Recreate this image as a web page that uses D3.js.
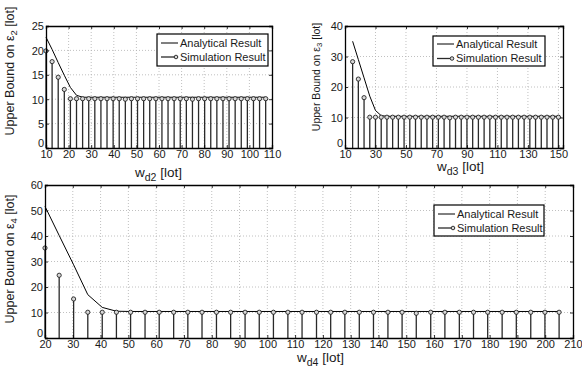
<!DOCTYPE html>
<html>
<head>
<meta charset="utf-8">
<script src="https://cdn.jsdelivr.net/npm/d3@7"></script>
<style>
  body { margin: 0; background: #fff; }
  svg text { font-family: "Liberation Sans", Arial, sans-serif; fill: #1a1a1a; }
</style>
</head>
<body>
<svg id="chart" width="582" height="369"></svg>
<script>
// ---- panel 1 (w_d2) ----
const wd2 = [10, 12.7, 15.4, 18.1, 20.8, 23.5, 26.2, 28.9, 31.6, 34.3, 37, 39.7, 42.4, 45.1, 47.8, 50.5, 53.2, 55.9, 58.6,
  61.3, 64, 66.7, 69.4, 72.1, 74.8, 77.5, 80.2, 82.9, 85.6, 88.3, 91, 93.7, 96.4, 99.1, 101.8, 104.5, 107.2];
const sim2 = [19.9, 17.7, 14.5, 12, 10.1, 10.1, 10.1, 10.1, 10.1, 10.1, 10.1, 10.1, 10.1, 10, 10.1, 10.1, 10.1, 10.1, 10.1,
  10.1, 10.1, 10.1, 10.1, 10.1, 10, 10.1, 10.1, 10.1, 10.1, 10.1, 10.1, 10.1, 10.1, 10.1, 10.1, 10.1, 10.1];
const ana2 = [22.7, 20.2, 17.5, 14.9, 12.4, 10.8, 10.4, 10.4, 10.4, 10.4, 10.4, 10.4, 10.4, 10.4, 10.4, 10.4, 10.4, 10.4, 10.4,
  10.4, 10.4, 10.4, 10.4, 10.4, 10.4, 10.4, 10.4, 10.4, 10.4, 10.4, 10.4, 10.4, 10.4, 10.4, 10.4, 10.4, 10.4];
const xTicks2 = [10, 20, 30, 40, 50, 60, 70, 80, 90, 100, 110];
const yTicks2 = [0, 5, 10, 15, 20, 25];

// ---- panel 2 (w_d3) ----
const wd3 = [15, 18.75, 22.5, 26.25, 30, 33.75, 37.5, 41.25, 45, 48.75, 52.5, 56.25, 60, 63.75, 67.5, 71.25, 75, 78.75, 82.5,
  86.25, 90, 93.75, 97.5, 101.25, 105, 108.75, 112.5, 116.25, 120, 123.75, 127.5, 131.25, 135, 138.75, 142.5, 146.25, 150];
const sim3 = [28.3, 22.6, 16.5, 10.1, 10.1, 10.1, 10.1, 10.1, 10.1, 10.1, 10.1, 10.1, 10.1, 10.1, 10.1, 10.1, 10.1, 9.9, 10.1,
  10.1, 10.1, 10.1, 10.1, 10.1, 10.1, 10.1, 10.1, 10.1, 10.1, 10.1, 10.1, 10.1, 10.1, 10.1, 10.1, 10.1, 10.1];
const ana3 = [35, 29, 23, 17, 12.3, 10.6, 10.4, 10.4, 10.4, 10.4, 10.4, 10.4, 10.4, 10.4, 10.4, 10.4, 10.4, 10.4, 10.4,
  10.4, 10.4, 10.4, 10.4, 10.4, 10.4, 10.4, 10.4, 10.4, 10.4, 10.4, 10.4, 10.4, 10.4, 10.4, 10.4, 10.4, 10.4];
const xTicks3 = [10, 30, 50, 70, 90, 110, 130, 150];
const yTicks3 = [0, 10, 20, 30, 40];

// ---- panel 3 (w_d4) ----
const wd4 = [20, 25.1, 30.3, 35.4, 40.6, 45.7, 50.8, 56, 61.1, 66.3, 71.4, 76.5, 81.7, 86.8, 92, 97.1, 102.2, 107.4, 112.5,
  117.7, 122.8, 127.9, 133.1, 138.2, 143.4, 148.5, 153.6, 158.8, 163.9, 169.1, 174.2, 179.3, 184.5, 189.6, 194.8, 199.9, 205];
const sim4 = [35.3, 24.6, 15.3, 10.1, 10.1, 10.1, 10.1, 10.1, 10.1, 10.1, 10.1, 10.1, 10.1, 10.1, 10.1, 10.1, 10.1, 10.1, 10.1,
  10.1, 10.1, 10.1, 10.1, 10.1, 10.1, 10.1, 9.7, 10.1, 10.1, 10.1, 10.1, 10.1, 10.1, 10.1, 10.1, 10.1, 10.1];
const ana4 = [51.6, 40.2, 28.7, 17, 12, 10.5, 10.4, 10.4, 10.4, 10.4, 10.4, 10.4, 10.4, 10.4, 10.4, 10.4, 10.4, 10.4, 10.4,
  10.4, 10.4, 10.4, 10.4, 10.4, 10.4, 10.4, 10.4, 10.4, 10.4, 10.4, 10.4, 10.4, 10.4, 10.4, 10.4, 10.4, 10.4];
const xTicks4 = [20, 30, 40, 50, 60, 70, 80, 90, 100, 110, 120, 130, 140, 150, 160, 170, 180, 190, 200, 210];
const yTicks4 = [0, 10, 20, 30, 40, 50, 60];

const legendLabels = ["Analytical Result", "Simulation Result"];

const svg = d3.select("#chart");

function drawPanel(p) {
  const x = d3.scaleLinear().domain(p.xDomain).range([p.left, p.right]);
  const y = d3.scaleLinear().domain(p.yDomain).range([p.bottom, p.top]);
  const g = svg.append("g");

  // dotted grid
  g.append("g").selectAll("line").data(p.xTicks.filter(d => d > p.xDomain[0] && d < p.xDomain[1]))
    .join("line")
    .attr("x1", d => x(d)).attr("x2", d => x(d)).attr("y1", p.top).attr("y2", p.bottom)
    .attr("stroke", "#b0b0b0").attr("stroke-width", 0.8).attr("stroke-dasharray", "1,2");
  g.append("g").selectAll("line").data(p.yTicks.slice(1, -1))
    .join("line")
    .attr("x1", p.left).attr("x2", p.right).attr("y1", d => y(d)).attr("y2", d => y(d))
    .attr("stroke", "#b0b0b0").attr("stroke-width", 0.8).attr("stroke-dasharray", "1,2");

  // stems
  g.append("g").selectAll("line").data(p.xs)
    .join("line")
    .attr("x1", d => x(d)).attr("x2", d => x(d))
    .attr("y1", y(0)).attr("y2", (d, i) => y(p.sim[i]))
    .attr("stroke", "#2a2a2a").attr("stroke-width", 1.3);

  // analytical line
  g.append("path")
    .datum(p.xs.map((d, i) => [d, p.ana[i]]))
    .attr("fill", "none").attr("stroke", "#000").attr("stroke-width", 1)
    .attr("d", d3.line().x(d => x(d[0])).y(d => y(d[1])));

  // markers
  g.append("g").selectAll("circle").data(p.xs)
    .join("circle")
    .attr("cx", d => x(d)).attr("cy", (d, i) => y(p.sim[i])).attr("r", 2.1)
    .attr("fill", "#d8d8d8").attr("stroke", "#222").attr("stroke-width", 0.9);

  // axes, matlab like box with inward ticks
  const bottom = g.append("g").attr("transform", `translate(0,${p.bottom})`)
    .call(d3.axisBottom(x).tickValues(p.xTicks).tickSize(-3).tickPadding(3).tickFormat(d3.format("d")));
  const top = g.append("g").attr("transform", `translate(0,${p.top})`)
    .call(d3.axisTop(x).tickValues(p.xTicks).tickSize(-3).tickFormat(""));
  const left = g.append("g").attr("transform", `translate(${p.left},0)`)
    .call(d3.axisLeft(y).tickValues(p.yTicks).tickSize(-3).tickPadding(2).tickFormat(d3.format("d")));
  const right = g.append("g").attr("transform", `translate(${p.right},0)`)
    .call(d3.axisRight(y).tickValues(p.yTicks).tickSize(-3).tickFormat(""));
  [bottom, top, left, right].forEach(a => {
    a.select(".domain").attr("stroke", "#000").attr("stroke-width", 1.3);
    a.selectAll(".tick line").attr("stroke", "#000").attr("stroke-width", 0.8);
    a.selectAll(".tick text").attr("font-size", p.tickFont).attr("fill", "#1a1a1a")
      .attr("font-family", "Liberation Sans, Arial, sans-serif");
  });
  bottom.selectAll(".tick text").attr("dy", "0.6em");
  left.selectAll(".tick text").attr("dy", d => d === 0 ? "-0.15em" : "0.35em");

  // y label
  const yl = g.append("text")
    .attr("transform", `translate(${p.ylab.x},${p.ylab.y}) rotate(-90)`)
    .attr("text-anchor", "middle").attr("font-size", p.ylab.size);
  yl.append("tspan").text("Upper Bound on \u03b5");
  yl.append("tspan").attr("baseline-shift", "-30%").attr("font-size", p.ylab.size * 0.75).text(p.sub);
  yl.append("tspan").text(p.ylab.gap + "[lot]");

  // x label
  const xl = g.append("text").attr("x", p.xlab.x).attr("y", p.xlab.y)
    .attr("font-size", p.xlab.size);
  xl.append("tspan").text("w");
  xl.append("tspan").attr("baseline-shift", "-35%").attr("font-size", p.xlab.size * 0.78).text("d" + p.xsub);
  xl.append("tspan").text(" [lot]");

  // legend
  const L = p.legend;
  const lg = g.append("g");
  lg.append("rect").attr("x", L.x).attr("y", L.y).attr("width", L.w).attr("height", L.h)
    .attr("fill", "#fff").attr("stroke", "#000").attr("stroke-width", 1.2);
  legendLabels.forEach((lab, i) => {
    const cy = L.y + L.row0 + i * L.dy;
    lg.append("line").attr("x1", L.x + 4).attr("x2", L.x + 21).attr("y1", cy).attr("y2", cy)
      .attr("stroke", i === 0 ? "#000" : "#2a2a2a").attr("stroke-width", i === 0 ? 1 : 1.3);
    if (i === 1) {
      lg.append("circle").attr("cx", L.x + 19).attr("cy", cy).attr("r", 1.8)
        .attr("fill", "#d8d8d8").attr("stroke", "#222").attr("stroke-width", 0.9);
    }
    lg.append("text").attr("x", L.x + 23).attr("y", cy).attr("dy", "0.35em")
      .attr("font-size", L.size).text(lab);
  });
}

drawPanel({
  xs: wd2, sim: sim2, ana: ana2, xTicks: xTicks2, yTicks: yTicks2,
  xDomain: [10, 110], yDomain: [0, 25],
  left: 46, right: 272, top: 26, bottom: 148, tickFont: 11,
  sub: "2", xsub: "2",
  ylab: { x: 14, y: 71, size: 12.5, gap: "   " },
  xlab: { x: 135, y: 177, size: 13.5 },
  legend: { x: 157, y: 34, w: 111, h: 32, row0: 9, dy: 14, size: 11 }
});

drawPanel({
  xs: wd3, sim: sim3, ana: ana3, xTicks: xTicks3, yTicks: yTicks3,
  xDomain: [10, 153], yDomain: [0, 40],
  left: 345, right: 563, top: 26, bottom: 148, tickFont: 11,
  sub: "3", xsub: "3",
  ylab: { x: 320, y: 77, size: 10.5, gap: " " },
  xlab: { x: 437, y: 171, size: 13.5 },
  legend: { x: 433, y: 36, w: 112, h: 30, row0: 8, dy: 14.5, size: 11 }
});

drawPanel({
  xs: wd4, sim: sim4, ana: ana4, xTicks: xTicks4, yTicks: yTicks4,
  xDomain: [20, 210], yDomain: [0, 60],
  left: 45, right: 573, top: 185, bottom: 338, tickFont: 11,
  sub: "4", xsub: "4",
  ylab: { x: 14, y: 259, size: 12.5, gap: "   " },
  xlab: { x: 297, y: 362, size: 13.5 },
  legend: { x: 434, y: 205, w: 110, h: 31, row0: 9, dy: 14, size: 11 }
});
</script>
</body>
</html>
